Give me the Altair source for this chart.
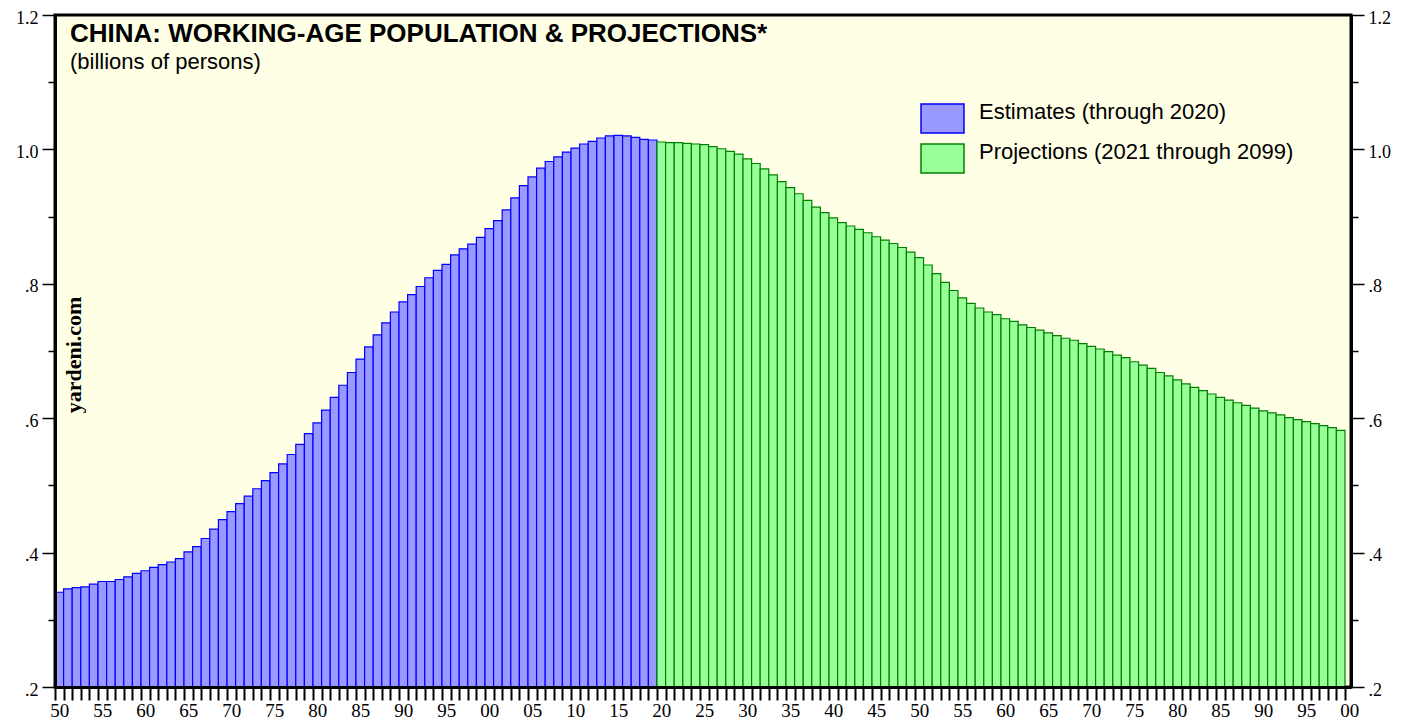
import altair as alt
import pandas as pd

# ---------------- data ----------------
est_label = "Estimates (through 2020)"
proj_label = "Projections (2021 through 2099)"

est_years = list(range(1950, 2020))
est_values = [
    0.341, 0.346, 0.348, 0.349, 0.353, 0.357, 0.357, 0.360, 0.364, 0.369,
    0.373, 0.378, 0.382, 0.386, 0.391, 0.401, 0.409, 0.421, 0.435, 0.449,
    0.461, 0.473, 0.484, 0.495, 0.507, 0.519, 0.532, 0.546, 0.561, 0.577,
    0.593, 0.612, 0.631, 0.649, 0.668, 0.688, 0.706, 0.724, 0.742, 0.758,
    0.773, 0.784, 0.796, 0.809, 0.820, 0.829, 0.843, 0.852, 0.859, 0.869,
    0.882, 0.894, 0.910, 0.928, 0.946, 0.959, 0.972, 0.982, 0.989, 0.996,
    1.002, 1.008, 1.012, 1.017, 1.020, 1.021, 1.020, 1.018, 1.015, 1.014,
]

proj_years = list(range(2020, 2100))
proj_values = [
    1.011, 1.010, 1.010, 1.009, 1.008, 1.007, 1.004, 1.001, 0.997, 0.993,
    0.986, 0.979, 0.971, 0.962, 0.952, 0.943, 0.934, 0.924, 0.914, 0.906,
    0.898, 0.891, 0.886, 0.881, 0.876, 0.870, 0.865, 0.860, 0.854, 0.847,
    0.839, 0.828, 0.815, 0.802, 0.790, 0.779, 0.771, 0.764, 0.758, 0.754,
    0.748, 0.744, 0.739, 0.735, 0.731, 0.727, 0.723, 0.719, 0.716, 0.711,
    0.707, 0.703, 0.699, 0.694, 0.690, 0.684, 0.679, 0.674, 0.668, 0.663,
    0.657, 0.651, 0.646, 0.641, 0.636, 0.631, 0.627, 0.623, 0.619, 0.615,
    0.611, 0.608, 0.605, 0.601, 0.598, 0.595, 0.592, 0.589, 0.586, 0.582,
]

y_tick_values = [0.2, 0.3, 0.4, 0.5, 0.6, 0.7, 0.8, 0.9, 1.0, 1.1, 1.2]
x_tick_years = list(range(1950, 2101))

title_text = "CHINA: WORKING-AGE POPULATION & PROJECTIONS*"
subtitle_text = "(billions of persons)"
source_text = "yardeni.com"

# ---------------- table ----------------
df = pd.DataFrame({
    "year": est_years + proj_years,
    "value": est_values + proj_values,
    "series": [est_label] * len(est_years) + [proj_label] * len(proj_years),
})
df["start"] = df["year"] - 0.5
df["end"] = df["year"] + 0.5

W, H = 1296, 672
BG = "#FFFFE6"

x_scale = alt.Scale(domain=[1949.5, 2100.2], nice=False, zero=False)
y_scale = alt.Scale(domain=[0.2, 1.2], nice=False, zero=False)

x_axis = alt.Axis(
    values=[y - 0.5 for y in x_tick_years],
    labelExpr="(round(datum.value + 0.5) % 5 == 0) ? format(round(datum.value + 0.5) % 100, '02d') : ''",
    title=None, grid=False,
    tickSize=13, tickWidth=2, tickColor="black",
    domainColor="black", domainWidth=3,
    labelFont="Liberation Serif", labelFontSize=19, labelColor="black",
    labelPadding=1, labelOffset=4.3, labelFlush=False, labelOverlap=False,
    zindex=1,
)

y_label_expr = ("round(datum.value*10) % 2 == 0 ? (datum.value >= 1 ? format(datum.value, '.1f') : "
                "replace(format(datum.value, '.1f'), '0.', '.')) : ''")
y_tick_size = {"condition": {"test": "round(datum.value*10) % 2 == 0", "value": 13}, "value": 7}


def y_axis(orient):
    return alt.Axis(
        orient=orient, values=y_tick_values, labelExpr=y_label_expr,
        title=None, grid=False,
        tickSize=y_tick_size, tickWidth=1.5, tickColor="black",
        domainColor="black", domainWidth=3,
        labelFont="Liberation Serif", labelFontSize=18, labelColor="black",
        labelPadding=4, labelOffset=3, labelOverlap=False, labelFlush=False,
        zindex=1,
    )


legend_path = "M-1,-0.674L1,-0.674L1,0.674L-1,0.674Z"
legend = alt.Legend(
    title=None, orient="none", legendX=865, legendY=81,
    symbolType=legend_path, symbolSize=1849, symbolStrokeWidth=1.5,
    labelFont="Liberation Sans", labelFontSize=22, labelColor="black",
    labelBaseline="alphabetic",
    labelOffset=14, rowPadding=-5, padding=0, labelLimit=600,
)

bars = alt.Chart(df).mark_bar(strokeWidth=1.2).encode(
    x=alt.X("start:Q", scale=x_scale, axis=x_axis),
    x2="end:Q",
    y=alt.Y("value:Q", scale=y_scale, axis=y_axis("left")),
    y2=alt.datum(0.2),
    fill=alt.Fill("series:N", scale=alt.Scale(domain=[est_label, proj_label],
                                               range=["#9999FF", "#99FF99"]), legend=legend),
    stroke=alt.Stroke("series:N", scale=alt.Scale(domain=[est_label, proj_label],
                                                   range=["#0000FF", "#008000"]), legend=legend),
)

right = alt.Chart(df).mark_point(opacity=0).encode(
    y=alt.Y("value:Q", scale=y_scale, axis=y_axis("right")),
)

txt = pd.DataFrame({"title": [title_text], "sub": [subtitle_text], "src": [source_text]})

title = alt.Chart(txt).mark_text(
    align="left", baseline="alphabetic", font="Liberation Sans", fontSize=26,
    fontWeight="bold", color="black",
).encode(x=alt.value(15), y=alt.value(27), text="title:N")

subtitle = alt.Chart(txt).mark_text(
    align="left", baseline="alphabetic", font="Liberation Sans", fontSize=22, color="black",
).encode(x=alt.value(15), y=alt.value(54), text="sub:N")

source = alt.Chart(txt).mark_text(
    align="center", baseline="middle", font="Liberation Serif", fontSize=22,
    fontWeight="bold", color="black", angle=270,
).encode(x=alt.value(19), y=alt.value(340), text="src:N")

chart = alt.layer(bars, right, title, subtitle, source).resolve_scale(
    y="independent"
).properties(
    width=W, height=H,
    autosize=alt.AutoSizeParams(type="none"),
    padding={"left": 47, "top": 7, "right": 54, "bottom": 32},
    background="white",
).configure_view(
    fill=BG, stroke="black", strokeWidth=3,
)

chart.save("out.html", embed_options={"renderer": "svg", "actions": False})
